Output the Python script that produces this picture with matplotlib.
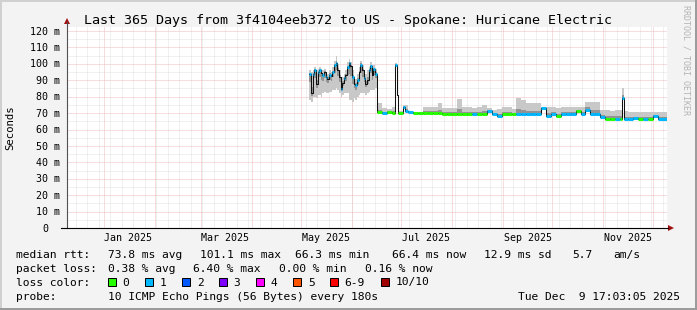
import matplotlib
matplotlib.use('Agg')
import matplotlib.pyplot as plt
import matplotlib.dates as mdates
from matplotlib.patches import Rectangle, Polygon
from matplotlib.lines import Line2D
from datetime import datetime, timedelta

W, H = 697, 310

# graph window
t_end = datetime(2025, 12, 9, 17, 3, 5)
t_start = t_end - timedelta(days=365)

# first block: one value per day, starting here
noisy_start = datetime(2025, 5, 6, 3)
noisy_median = [94, 82, 94, 96, 88, 95, 96.5, 94.5, 93, 95,
                92, 91, 93.5, 92.5, 95, 99, 100.7, 96, 92, 84.5,
                88.5, 91.5, 93, 98, 100.7, 98.5, 92, 88, 87, 90,
                95, 99.5, 96, 91.5, 88, 90, 96, 98.7, 93, 97, 94]
noisy_hi = [96, 95, 96, 98, 96, 97, 98, 97, 96, 97,
            95, 94, 96, 95, 98, 102, 104.5, 100, 96, 92,
            92, 94, 96, 101, 103, 101, 96, 92, 91, 94,
            98, 102, 99, 96, 94, 96, 98, 101, 99, 99, 97]
noisy_lo = [78, 77, 80, 80, 79, 81, 81, 80, 82, 83,
            82, 82, 83, 83, 84, 84, 85, 84, 82, 80,
            81, 82, 82, 82, 78, 78, 77, 79, 78, 80,
            81, 82, 82, 82, 81, 82, 83, 84, 84, 84, 85]
noisy_loss = [1, -1, 1, 1, -1, 1, 1, -1, 1, -1,
              1, -1, 1, -1, 1, 1, 1, -1, -1, 1,
              -1, 1, -1, 1, 1, -1, 1, -1, 1, 1,
              -1, 1, -1, 1, -1, -1, 1, 1, -1, 1, 1]

# second block: steps of varying length (days)
flat_days = [3, 3, 3, 2, 1.2, 0.8, 3, 1.5, 1.5, 3,
             3, 3, 3, 3, 3, 3, 3, 3, 3, 3,
             3, 3, 3, 3, 3, 3, 3, 3, 3, 3,
             3, 3, 3, 3, 3, 3, 3, 3, 3, 3,
             3, 3, 3, 3, 3, 3, 3, 3, 3, 3,
             3, 3, 1.5, 1, 2.5, 3, 3, 3, 3, 3,
             3, 5.6]
flat_median = [70.4, 70.0, 70.4, 70.2, 99.3, 81, 70.0, 73.5, 71, 70.6,
               69.9, 69.9, 69.9, 69.9, 69.9, 69.8, 69.6, 69.6, 69.6, 69.6,
               69.5, 69.5, 69.5, 69.5, 69.5, 71.3, 69.4, 68.2, 69.4, 69.4,
               69.4, 69.4, 69.4, 69.4, 69.4, 69.4, 73, 68.2, 69.4, 68.2,
               69.4, 69.4, 69.4, 71, 69.4, 72, 69.4, 69.4, 67.8, 66.4,
               66.4, 66.4, 66.4, 79, 66.4, 66.4, 66.8, 66.4, 66.4, 66.4,
               68, 66.4]
flat_hi = [76, 73, 72.5, 74, 100.5, 82, 71, 75, 75, 71.5,
           70.8, 70.8, 73.7, 73.7, 73.5, 76, 73, 73, 73, 78.6,
           74, 74, 73, 74, 75, 73, 72, 72.5, 73.5, 73.5,
           72.5, 79, 78, 76, 76, 76, 74, 73.5, 73.5, 73,
           73.5, 73.5, 73.5, 74, 74, 77, 77, 77, 72, 72,
           71.5, 72, 72, 85, 71, 70.8, 70.5, 70.5, 70.5, 70.5,
           70.5, 70.5]
flat_loss = [0, 1, 0, 0, 1, -1, 0, 1, 1, 1,
             0, 0, 0, 0, 0, 0, 0, 0, 0, 0,
             0, 0, 1, 0, 0, 1, 1, 1, 0, 0,
             0, 1, 1, 1, 1, 1, 1, 1, 1, 0,
             1, 1, 1, 0, 1, 1, 1, 1, 1, 0,
             0, 1, 0, 1, 1, 1, 1, 0, 1, 0,
             1, 1]

loss_labels = ['0', '1', '2', '3', '4', '5', '6-9', '10/10']
loss_colors = ['#26ff00', '#00b8ff', '#0059ff', '#7e00ff',
               '#ff00ff', '#ff5500', '#ff0000', '#a10000']

title = 'Last 365 Days from 3f4104eeb372 to US - Spokane: Huricane Electric'
stats_rtt = ['median rtt:', '73.8 ms avg', '101.1 ms max', '66.3 ms min',
             '66.4 ms now', '12.9 ms sd', '5.7', 'am/s']
stats_loss = ['packet loss:', '0.38 % avg', '6.40 % max', '0.00 % min', '0.16 % now']
probe = '10 ICMP Echo Pings (56 Bytes) every 180s'
stamp = 'Tue Dec  9 17:03:05 2025'

MONO = 'DejaVu Sans Mono'
PX = (228 - 31) / 120.0          # pixels per ms
YTOP = (228 - 26.5) / PX


def fx(x):
    return x / W


def fy(y):
    return 1 - y / H


# build step table
starts, durs, med, lo, hi, loss = [], [], [], [], [], []
t = noisy_start
for i in range(len(noisy_median)):
    starts.append(t); durs.append(1.0)
    med.append(noisy_median[i]); lo.append(noisy_lo[i]); hi.append(noisy_hi[i])
    loss.append(noisy_loss[i])
    t = t + timedelta(days=1)
for i in range(len(flat_median)):
    starts.append(t); durs.append(flat_days[i])
    med.append(flat_median[i]); lo.append(flat_median[i]); hi.append(flat_hi[i])
    loss.append(flat_loss[i])
    t = t + timedelta(days=flat_days[i])
x0 = mdates.date2num(starts)
x1 = x0 + durs

fig = plt.figure(figsize=(W / 100, H / 100), dpi=100, facecolor='#f3f3f3')
ax = fig.add_axes([fx(67), fy(228), 600 / W, (228 - 26.5) / H])
ax.set_facecolor('white')
ax.set_xlim(t_start, t_end)
ax.set_ylim(0, YTOP)
for s in ax.spines.values():
    s.set_visible(False)
ax.set_xticks([]); ax.set_yticks([])

# grid: minor every 5 ms / week, major every 10 ms / month
dot = (0, (1, 1))
for v in range(5, 125, 10):
    ax.axhline(v, color='#e2e2e2', lw=0.72, ls=dot, zorder=0)
wk = datetime(2024, 12, 15)
while wk < t_end:
    if wk > t_start:
        ax.axvline(wk, color='#e2e2e2', lw=0.72, ls=dot, zorder=0)
    wk += timedelta(days=7)
for v in range(10, 125, 10):
    ax.axhline(v, color='#f0bcbc', lw=0.72, ls=dot, zorder=0.5)
months = [datetime(2025, m, 1) for m in range(1, 13)]
for m in months:
    ax.axvline(m, color='#f0bcbc', lw=0.72, ls=dot, zorder=0.5)

# smoke
ax.bar(x0, [h - l for h, l in zip(hi, lo)], width=durs, bottom=lo, align='edge',
       color='#c8c8c8', lw=0, zorder=1)
in_lo = [m - 0.3 * (m - l) for m, l in zip(med, lo)]
in_hi = [m + 0.3 * (h - m) for m, h in zip(med, hi)]
ax.bar(x0, [h - l for h, l in zip(in_hi, in_lo)], width=durs, bottom=in_lo,
       align='edge', color='#939393', lw=0, zorder=1.5)

# median
ax.step(list(x0) + [x1[-1]], med + [med[-1]], where='post', color='#101010',
        lw=0.75, zorder=2)
for a, b, m, l in zip(x0, x1, med, loss):
    if l >= 0:
        ax.hlines(m, a, b, colors=loss_colors[l], lw=2.2, zorder=3)

# axes lines and arrows
fig.add_artist(Line2D([fx(67), fx(67)], [fy(228), fy(22)], color='#505050', lw=0.8))
fig.add_artist(Line2D([fx(61), fx(668)], [fy(228), fy(228)], color='black', lw=0.8))
fig.add_artist(Polygon([(fx(64), fy(24)), (fx(70), fy(24)), (fx(67), fy(18))],
                       closed=True, color='#a01010', lw=0))
fig.add_artist(Polygon([(fx(668), fy(225)), (fx(668), fy(231)), (fx(674), fy(228))],
                       closed=True, color='#a01010', lw=0))

# y labels
for v in range(0, 121, 10):
    y = 228 - v * PX + 3.6
    if v == 0:
        fig.text(fx(48), fy(y), '0', ha='right', va='baseline', fontsize=7.2, family=MONO)
    else:
        fig.text(fx(60), fy(y), '%d m' % v, ha='right', va='baseline', fontsize=7.2, family=MONO)

# x labels, centred half a month after the month start
for m in months[::2]:
    xc = mdates.date2num(m + timedelta(days=15))
    xp = ax.transData.transform((xc, 0))[0]
    fig.text(xp / fig.dpi / fig.get_figwidth(), fy(241), m.strftime('%b %Y'),
             ha='center', va='baseline', fontsize=7.2, family=MONO)

fig.text(fx(348.5), fy(24), title, ha='center', va='baseline', fontsize=9.6, family=MONO)
fig.text(fx(10), fy(127.5), 'Seconds', rotation=90, ha='center', va='center',
         fontsize=7.7, family=MONO)
fig.text(fx(686), fy(5), 'RRDTOOL / TOBI OETIKER', rotation=270, ha='center', va='top',
         fontsize=6, family=MONO, color='#b4b4b4')

# legend rows
for s, xp in zip(stats_rtt, [16, 107.6, 200, 294.7, 392.4, 484, 572, 613]):
    fig.text(fx(xp), fy(257.7), s, ha='left', va='baseline', fontsize=8.1, family=MONO)
for s, xp in zip(stats_loss, [16, 107.6, 193.3, 279, 365.3]):
    fig.text(fx(xp), fy(271.7), s, ha='left', va='baseline', fontsize=8.1, family=MONO)
fig.text(fx(16), fy(285.5), 'loss color:', ha='left', va='baseline', fontsize=8.1, family=MONO)
box_x = [108, 145.3, 182.2, 219, 256.4, 293.3, 330.2, 381.3]
for lab, c, bx in zip(loss_labels, loss_colors, box_x):
    fig.add_artist(Rectangle((fx(bx), fy(286)), 8 / W, 8 / H, transform=fig.transFigure,
                             facecolor=c, edgecolor='black', lw=0.72))
    fig.text(fx(bx + 14.5), fy(285.5), lab, ha='left', va='baseline', fontsize=8.1, family=MONO)
fig.text(fx(16), fy(299.5), 'probe:', ha='left', va='baseline', fontsize=8.1, family=MONO)
fig.text(fx(107.6), fy(299.5), probe, ha='left', va='baseline', fontsize=8.1, family=MONO)
fig.text(fx(680), fy(299.5), stamp, ha='right', va='baseline', fontsize=8.1, family=MONO)

# frame
fig.add_artist(Line2D([fx(0.5), fx(696)], [fy(0.5), fy(0.5)], color='#d0d0d0', lw=1.4))
fig.add_artist(Line2D([fx(0.5), fx(0.5)], [fy(0.5), fy(309)], color='#d0d0d0', lw=1.4))
fig.add_artist(Line2D([fx(696), fx(696)], [fy(0.5), fy(309.5)], color='#9a9a9a', lw=1.4))
fig.add_artist(Line2D([fx(0.5), fx(696)], [fy(309), fy(309)], color='#9a9a9a', lw=1.4))

fig.savefig('out.png', dpi=100, facecolor=fig.get_facecolor())
